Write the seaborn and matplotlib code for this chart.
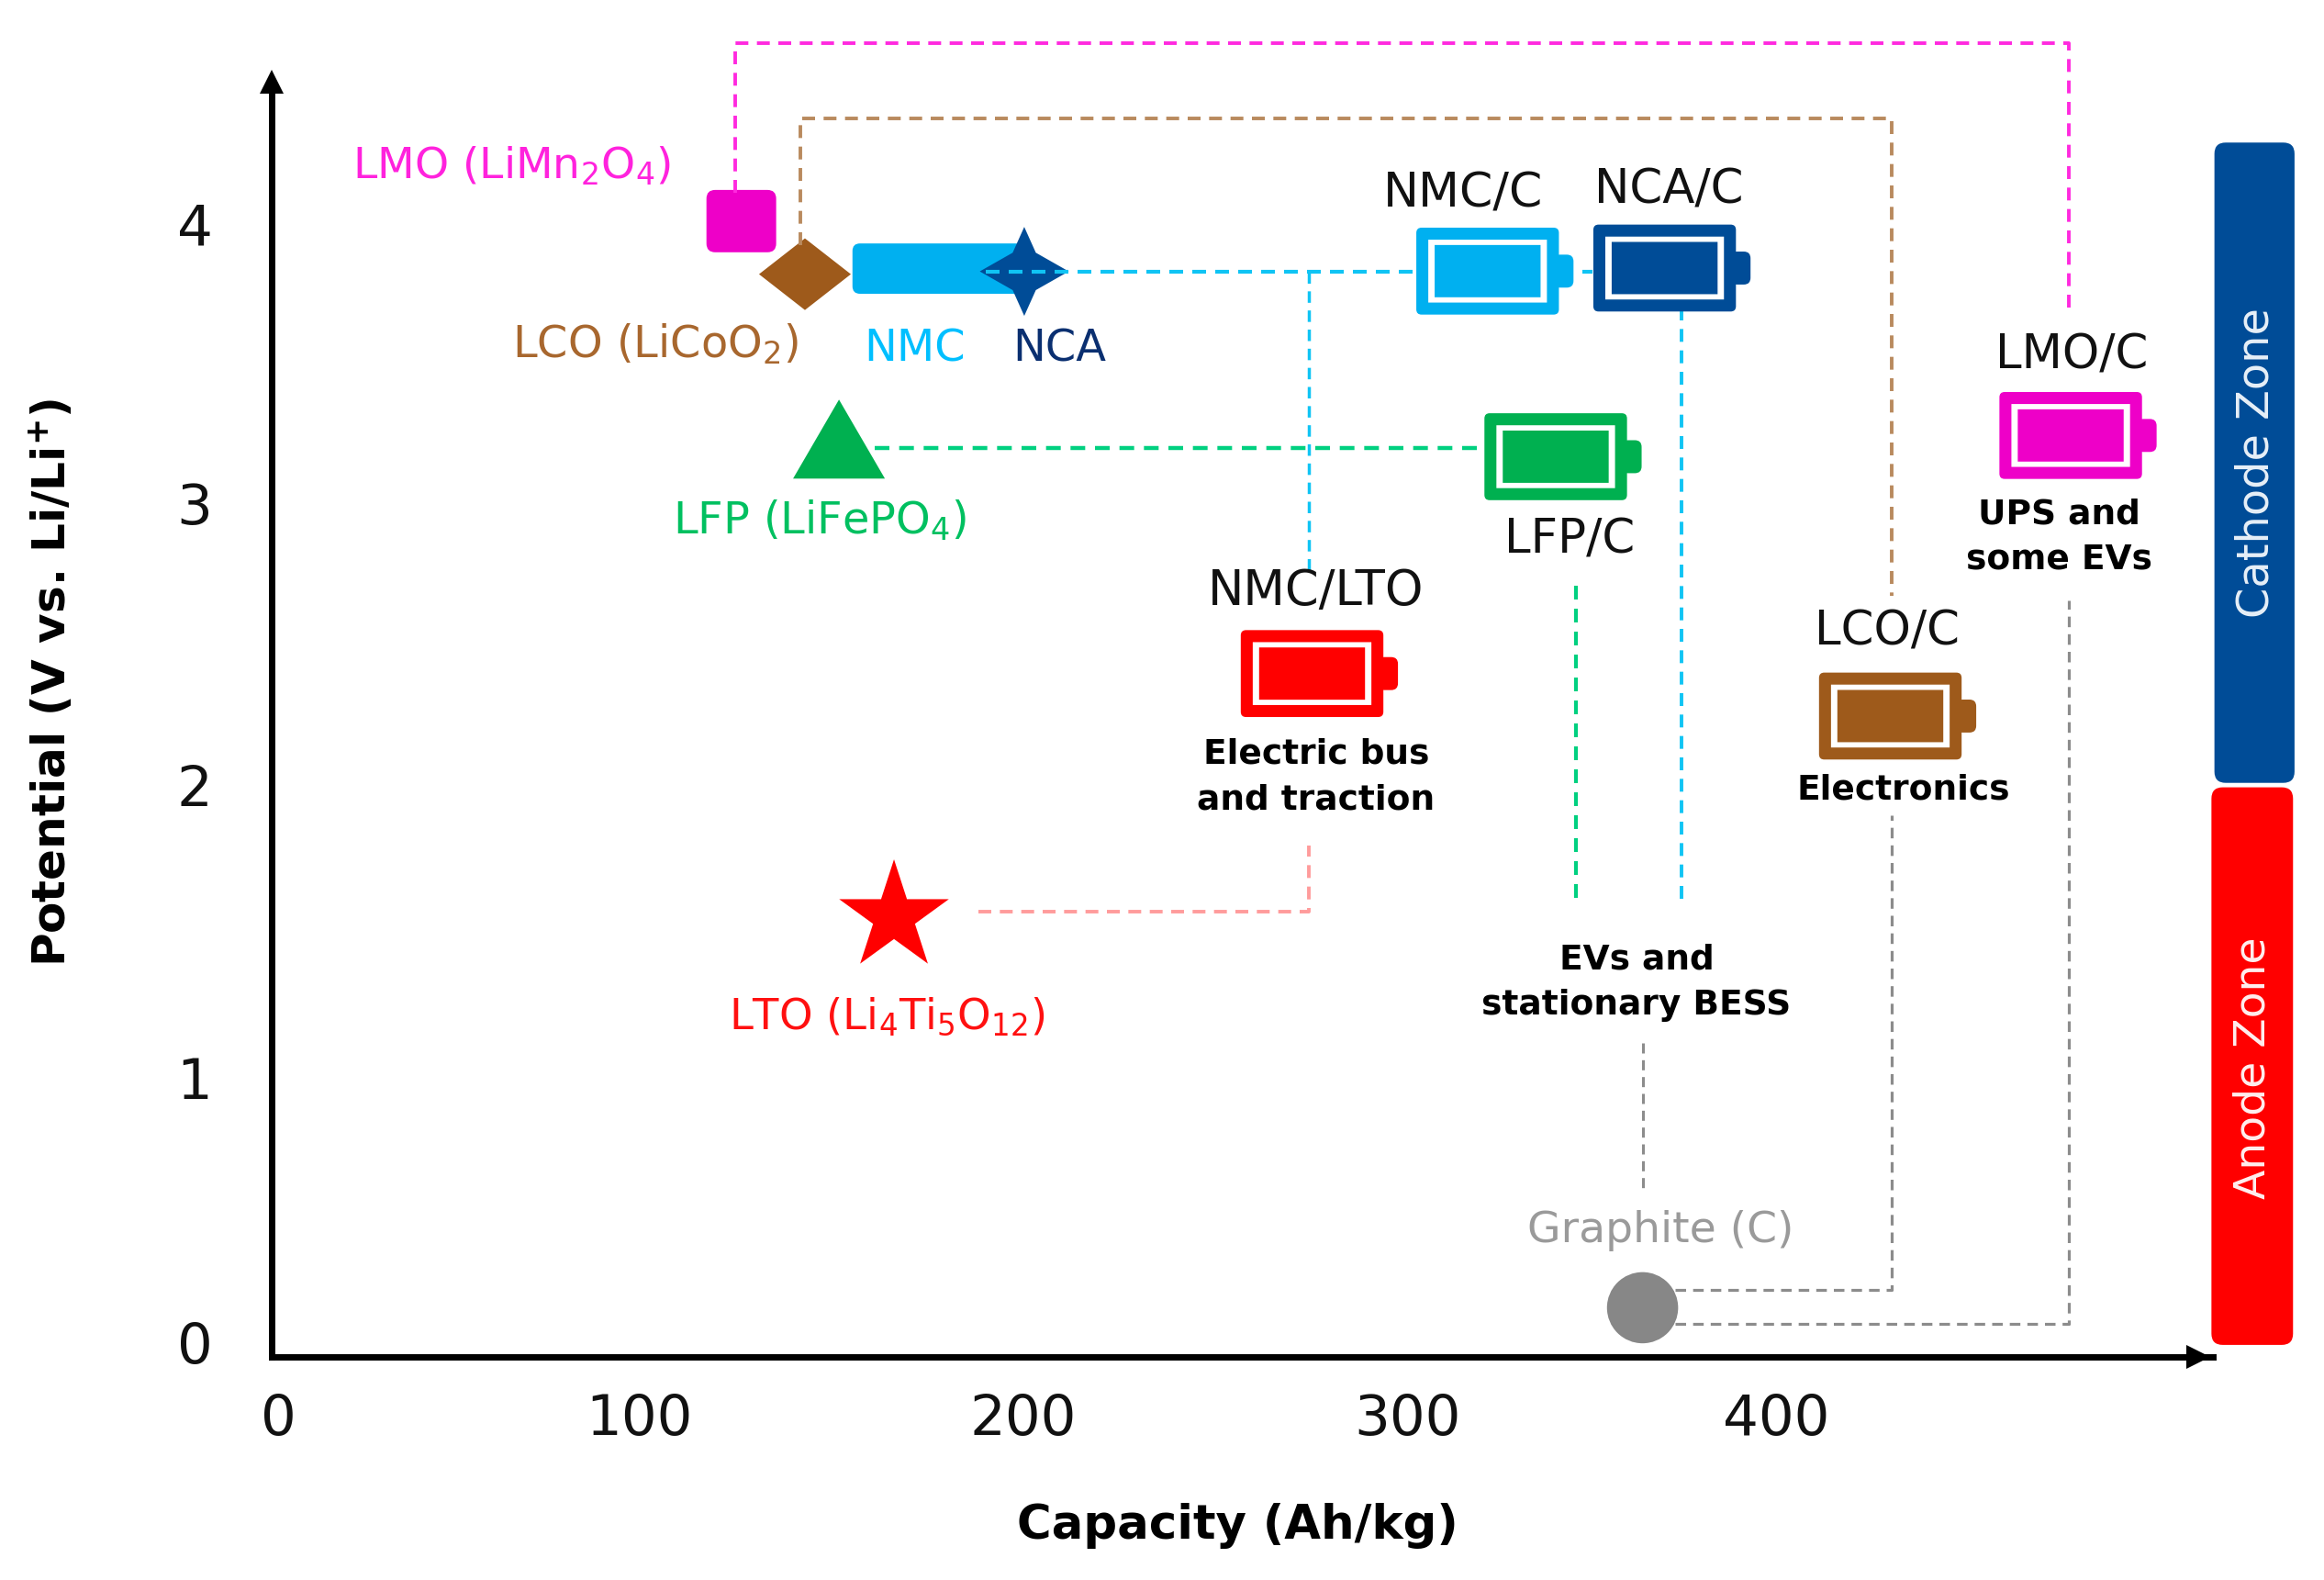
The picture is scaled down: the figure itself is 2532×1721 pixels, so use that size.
import numpy as np
import pandas as pd
import matplotlib
matplotlib.use("Agg")
import matplotlib.pyplot as plt
from matplotlib.patches import FancyBboxPatch
from matplotlib.path import Path
from matplotlib.transforms import ScaledTranslation
import seaborn as sns

# ---- data ----
materials = ["LMO", "LCO", "NCA", "LFP", "LTO", "Graphite"]
capacity = [123.6, 140.6, 199.2, 149.7, 164.4, 364.4]
potential = [4.01, 3.82, 3.83, 3.23, 1.52, 0.122]
nmc_range = [153.3, 198.8]
nmc_potential = 3.84

cell_names = ["NMC/C", "NCA/C", "LFP/C", "LMO/C", "NMC/LTO", "LCO/C"]
cell_capacity = [323.0, 370.3, 341.2, 478.8, 276.1, 430.6]
cell_potential = [3.831, 3.842, 3.167, 3.243, 2.391, 2.239]
cell_colors = ["#00B0F0", "#004C97", "#00B050", "#EE00C8", "#FF0000", "#9E5A1B"]

x_ticks = [0, 100, 200, 300, 400]
y_ticks = [0, 1, 2, 3, 4]

# connector paths: (x list, y list, colour, linewidth)
connectors = [
    ([122.0, 122.0, 478.4, 478.4], [4.11, 4.646, 4.646, 3.686], "#FF2ADF", 2.8),
    ([139.4, 139.4, 430.9, 430.9], [3.925, 4.376, 4.376, 2.668], "#B98A5E", 2.8),
    ([189.0, 351.0], [3.83, 3.83], "#10C4F4", 3.0),
    ([275.3, 275.3], [3.83, 2.758], "#10C4F4", 2.5),
    ([374.7, 374.7], [3.70, 1.554], "#10C4F4", 2.8),
    ([159.2, 325.6], [3.198, 3.198], "#00D080", 3.2),
    ([346.6, 346.6], [2.705, 1.586], "#00D080", 3.0),
    ([187.0, 275.3, 275.3], [1.538, 1.538, 1.777], "#FF9C9C", 2.8),
    ([364.4, 364.4], [1.071, 0.53], "#8C8C8C", 2.2),
    ([373.1, 430.9, 430.9], [0.186, 0.186, 1.883], "#8C8C8C", 2.3),
    ([373.1, 478.4, 478.4], [0.064, 0.064, 2.652], "#8C8C8C", 2.3),
]

# labels: (text, x, y, colour, font size, bold)
labels = [
    (r"LMO (LiMn$_{\mathregular{2}}$O$_{\mathregular{4}}$)", 62.2, 4.206, "#FF22DD", 34, False),
    (r"LCO (LiCoO$_{\mathregular{2}}$)", 100.6, 3.570, "#A8672E", 34.5, False),
    ("NMC", 169.9, 3.554, "#00BFFF", 34.5, False),
    ("NCA", 208.7, 3.554, "#0A2F70", 34.5, False),
    (r"LFP (LiFePO$_{\mathregular{4}}$)", 144.6, 2.938, "#00C060", 34.5, False),
    (r"LTO (Li$_{\mathregular{4}}$Ti$_{\mathregular{5}}$O$_{\mathregular{12}}$)", 162.4, 1.162, "#FF1010", 33.5, False),
    ("Graphite (C)", 369.1, 0.398, "#9A9A9A", 34, False),
    ("NMC/C", 316.4, 4.105, "#111111", 37.5, False),
    ("NCA/C", 371.5, 4.121, "#111111", 37, False),
    ("LMO/C", 479.2, 3.527, "#111111", 37, False),
    ("LFP/C", 345.0, 2.869, "#111111", 37, False),
    ("NMC/LTO", 277.2, 2.684, "#111111", 38, False),
    ("LCO/C", 429.7, 2.541, "#111111", 37, False),
    ("Electric bus\nand traction", 277.2, 2.021, "#000000", 27, True),
    ("Electronics", 434.0, 1.973, "#000000", 27, True),
    ("UPS and\nsome EVs", 475.6, 2.880, "#000000", 27, True),
    ("EVs and\nstationary BESS", 362.8, 1.284, "#000000", 27, True),
]

# ---- style ----
sns.set_theme(style="white")
plt.rcParams["font.family"] = ["DejaVu Sans"]
plt.rcParams["mathtext.fontset"] = "dejavusans"

W, H = 2532, 1721
fig = plt.figure(figsize=(W / 100, H / 100), dpi=100, facecolor="white")
L, R, B, T = 295.5, 2411.0, 1478.0, 32.3
ax = fig.add_axes([L / W, (H - B) / H, (R - L) / W, (B - T) / H])
XLIM = (-2.0, 516.8)
YLIM = (-0.054, 4.695)
KY = (YLIM[1] - YLIM[0]) / (B - T) / ((XLIM[1] - XLIM[0]) / (R - L))


def rounded(x0, y0, w, h, color, r=1.2, z=1.0):
    p = FancyBboxPatch((x0, y0), w, h, boxstyle=f"round,pad=0,rounding_size={r}",
                       mutation_aspect=KY, fc=color, ec="none", lw=0, zorder=z, clip_on=False)
    ax.add_patch(p)
    return p


def round_marker(w, h, r):
    v = [(-w + r, -h), (w - r, -h), (w, -h), (w, -h + r), (w, h - r), (w, h), (w - r, h),
         (-w + r, h), (-w, h), (-w, h - r), (-w, -h + r), (-w, -h), (-w + r, -h), (-w + r, -h)]
    c = [Path.MOVETO, Path.LINETO, Path.CURVE3, Path.CURVE3, Path.LINETO, Path.CURVE3, Path.CURVE3,
         Path.LINETO, Path.CURVE3, Path.CURVE3, Path.LINETO, Path.CURVE3, Path.CURVE3, Path.CLOSEPOLY]
    return Path(v, c)


a = 0.42
markers = {
    "LMO": round_marker(1.0, 0.894, 0.25),
    "LCO": Path([(-1, 0), (0, 0.78), (1, 0), (0, -0.78), (-1, 0)], closed=True),
    "NCA": Path([(0, 1), (a * 0.62, a), (1, 0), (a * 0.62, -a), (0, -1), (-a * 0.62, -a), (-1, 0), (-a * 0.62, a), (0, 1)], closed=True),
    "LFP": Path([(-1, -0.86), (1, -0.86), (0, 0.86), (-1, -0.86)], closed=True),
    "LTO": "*",
    "Graphite": "o",
}
palette = {"LMO": "#EE00C8", "LCO": "#9E5A1B", "NCA": "#004C97", "LFP": "#00B050",
           "LTO": "#FF0000", "Graphite": "#878787"}
sizes = {"LMO": 2990, "LCO": 5190, "NCA": 4870, "LFP": 5190, "LTO": 8180, "Graphite": 3115}

df = pd.DataFrame({"material": materials, "capacity": capacity, "potential": potential})

# NMC range bar (under the NCA marker)
rounded(nmc_range[0], nmc_potential - 0.09, nmc_range[1] - nmc_range[0], 0.18, "#00B0F0", r=2.0, z=1.5)

sns.scatterplot(data=df, x="capacity", y="potential", hue="material", style="material",
                size="material", palette=palette, markers=markers, sizes=sizes,
                linewidth=0, edgecolor="none", legend=False, zorder=2, ax=ax, clip_on=False)

for xs, ys, col, lw in connectors:
    sns.lineplot(x=xs, y=ys, sort=False, estimator=None, color=col, lw=lw,
                 linestyle=(0, (3.6, 2.4)), zorder=3, ax=ax)

# battery icons
bw, bh = 38.1, 0.311
tw, th = 3.9, 0.118
for cx, cy, col in zip(cell_capacity, cell_potential, cell_colors):
    rounded(cx + bw / 2 - 1.5, cy - th / 2, tw + 1.5, th, col, r=1.8, z=4)
    rounded(cx - bw / 2, cy - bh / 2, bw, bh, col, r=1.4, z=4.1)
    rounded(cx - bw / 2 + 3.2, cy - bh / 2 + 0.043, bw - 6.4, bh - 0.086, "white", r=0.01, z=4.2)
    rounded(cx - bw / 2 + 4.9, cy - bh / 2 + 0.062, bw - 9.8, bh - 0.124, col, r=0.01, z=4.3)

# zone bars
rounded(517.2, 2.0, 21.4, 2.291, "#004C97", r=3.0, z=4)
rounded(516.4, -0.011, 21.8, 1.995, "#FF0000", r=3.0, z=4)
ax.text(528.3, 3.145, "Cathode Zone", rotation=90, color="#E8F0F8", fontsize=34.5, ha="center", va="center", zorder=6)
ax.text(527.5, 0.981, "Anode Zone", rotation=90, color="#FFEFEF", fontsize=34, ha="center", va="center", zorder=6)

for txt, x, y, col, fs, bold in labels:
    ax.text(x, y, txt, color=col, ha="center", va="center", zorder=6, clip_on=False,
            fontsize=fs, fontweight="bold" if bold else "normal", linespacing=1.48)

# axes
ax.set_xlim(*XLIM)
ax.set_ylim(*YLIM)
sns.despine(ax=ax)
for s in ("left", "bottom"):
    ax.spines[s].set_linewidth(5.0)
    ax.spines[s].set_color("black")
ax.spines["left"].set_bounds(YLIM[0], 4.50)
ax.plot([XLIM[1] - 4.0], [YLIM[0]], marker=">", ms=19, color="black", mew=0, clip_on=False, zorder=5)
ax.plot([XLIM[0]], [4.51], marker="^", ms=19, color="black", mew=0, clip_on=False, zorder=5)

ax.set_xticks(x_ticks)
ax.set_yticks(y_ticks)
ax.set_xticklabels([str(v) for v in x_ticks])
ax.set_yticklabels([str(v) for v in y_ticks])
ax.tick_params(axis="x", length=0, pad=28, labelsize=44, labelcolor="#111111")
ax.tick_params(axis="y", length=0, pad=46, labelsize=44, labelcolor="#111111")

ax.set_xlabel("Capacity (Ah/kg)", fontsize=37, fontweight="bold", color="black", va="center")
ax.xaxis.set_label_coords(0.4977, -0.1273)
ax.set_ylabel(r"Potential (V vs. Li/Li$^{\mathbf{+}}$)", fontsize=36, fontweight="bold", color="black", va="center")
ax.yaxis.set_label_coords(-0.113, 0.508)

# the source places its tick labels by hand, slightly off the even grid
x_nudge = [0, -11, -3, 5, 0]
y_nudge = [0, -12, -2, 0, 0]
for lab, d in zip(ax.get_xticklabels(), x_nudge):
    lab.set_transform(lab.get_transform() + ScaledTranslation(d / 72, 0, fig.dpi_scale_trans))
for lab, d in zip(ax.get_yticklabels(), y_nudge):
    lab.set_transform(lab.get_transform() + ScaledTranslation(0, d / 72, fig.dpi_scale_trans))

fig.savefig("out.png", dpi=100, facecolor="white")
